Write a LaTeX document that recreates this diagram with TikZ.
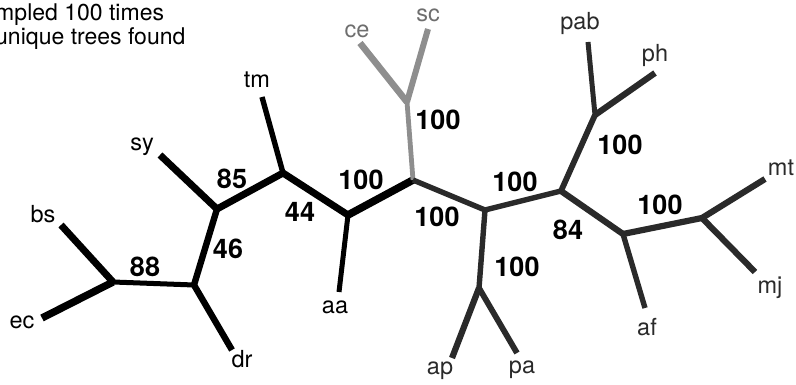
\documentclass[tikz,border=0pt]{standalone}
\usepackage{fontspec}
\setmainfont{TeX Gyre Heros}
\begin{document}
\begin{tikzpicture}[x=1pt,y=-1pt,
  lbl/.style={inner sep=0pt,font=\fontsize{23.5}{27}\selectfont},
  num/.style={inner sep=0pt,font=\fontsize{27}{31}\selectfont\bfseries},
  hdr/.style={inner sep=0pt,anchor=base west,font=\fontsize{23}{27}\selectfont},
  edge/.style={line width=7pt,line join=round},
  edgethin/.style={line width=5.4pt,line join=round},
  blk/.style={draw=black},
  dg/.style={draw=dgray},
  lg/.style={draw=lgray}]
\definecolor{dgray}{HTML}{2A2A2A}
\definecolor{lgray}{HTML}{8E8E8E}
\definecolor{lgtext}{HTML}{6E6E6E}
\useasboundingbox (0,0) rectangle (796,385);
% header
\node[hdr] (h1) at (-5,21) {mpled 100 times};
\node[hdr] (h2) at (-5,45) {unique trees found};
% junctions
\coordinate (A) at (113,282);
\coordinate (B) at (194,285);
\coordinate (C) at (217,209);
\coordinate (D) at (283,173);
\coordinate (E) at (348,215);
\coordinate (F) at (413,180);
\coordinate (G) at (407,102);
\coordinate (H) at (485,210);
\coordinate (I) at (479,288);
\coordinate (J) at (561,191);
\coordinate (K) at (595,115);
\coordinate (L) at (623,234);
\coordinate (M) at (702,218);
% tips
\coordinate (tec) at (42,318);
\coordinate (tbs) at (61,225);
\coordinate (tdr) at (232,350);
\coordinate (tsy) at (160,155);
\coordinate (ttm) at (262,97);
\coordinate (taa) at (339,292);
\coordinate (tce) at (360,43);
\coordinate (tsc) at (428,29);
\coordinate (tap) at (452,358);
\coordinate (tpa) at (517,353);
\coordinate (tpab) at (588,42);
\coordinate (tph) at (655,73);
\coordinate (taf) at (645,308);
\coordinate (tmt) at (765,179);
\coordinate (tmj) at (755,272);
% black part
\draw[edge,blk,line width=7.4pt] (tec) -- (A);
\draw[edge,blk] (tbs) -- (A);
\draw[edgethin,blk,line width=5pt] (A) -- (B);
\draw[edge,blk,line width=6.4pt] (B) -- (tdr);
\draw[edge,blk,line width=6.4pt] (B) -- (C);
\draw[edge,blk] (tsy) -- (C);
\draw[edge,blk] (C) -- (D);
\draw[edgethin,blk] (D) -- (ttm);
\draw[edge,blk] (D) -- (E);
\draw[edgethin,blk,line width=5pt] (E) -- (taa);
\draw[edge,blk,line width=7.6pt] (E) -- (F);
% light gray part
\draw[edgethin,lg,line width=4.8pt] (F) -- (G);
\draw[edge,lg,line width=6.6pt] (G) -- (tce);
\draw[edge,lg,line width=6pt] (G) -- (tsc);
% dark gray part
\draw[edgethin,dg] (F) -- (H);
\draw[edgethin,dg] (H) -- (I);
\draw[edge,dg,line width=6.2pt] (I) -- (tap);
\draw[edge,dg,line width=5.8pt] (I) -- (tpa);
\draw[edgethin,dg] (H) -- (J);
\draw[edge,dg,line width=5.8pt] (J) -- (K);
\draw[edgethin,dg,line width=5pt] (K) -- (tpab);
\draw[edge,dg,line width=6.2pt] (K) -- (tph);
\draw[edge,dg,line width=6.2pt] (J) -- (L);
\draw[edgethin,dg] (L) -- (taf);
\draw[edge,dg,line width=6.2pt] (L) -- (M);
\draw[edge,dg,line width=6.2pt] (M) -- (tmt);
\draw[edge,dg,line width=6.2pt] (M) -- (tmj);
% taxon labels
\node[lbl] (lec) at (22,322) {ec};
\node[lbl] (lbs) at (43,214) {bs};
\node[lbl] (ldr) at (242,359) {dr};
\node[lbl] (lsy) at (142,147) {sy};
\node[lbl] (ltm) at (257,80) {tm};
\node[lbl] (laa) at (335,307) {aa};
\node[lbl,text=lgtext] (lce) at (357,31) {ce};
\node[lbl,text=lgtext] (lsc) at (428,15) {sc};
\node[lbl,text=dgray] (lap) at (440,371) {ap};
\node[lbl,text=dgray] (lpa) at (522,370) {pa};
\node[lbl,text=dgray] (lpab) at (580,23) {pab};
\node[lbl,text=dgray] (lph) at (655,55) {ph};
\node[lbl,text=dgray] (laf) at (647,327) {af};
\node[lbl,text=dgray] (lmt) at (781,168) {mt};
\node[lbl,text=dgray] (lmj) at (770,288) {mj};
% support values
\node[num] (n88) at (145,267) {88};
\node[num] (n46) at (228,249) {46};
\node[num] (n85) at (232,179) {85};
\node[num] (n44) at (300,212) {44};
\node[num] (n100a) at (361,180) {100};
\node[num] (n100b) at (438,120) {100};
\node[num] (n100c) at (437,217) {100};
\node[num] (n100d) at (515,182) {100};
\node[num] (n100e) at (517,267) {100};
\node[num] (n84) at (568,230) {84};
\node[num] (n100f) at (620,145) {100};
\node[num] (n100g) at (660,205) {100};
\end{tikzpicture}
\end{document}
